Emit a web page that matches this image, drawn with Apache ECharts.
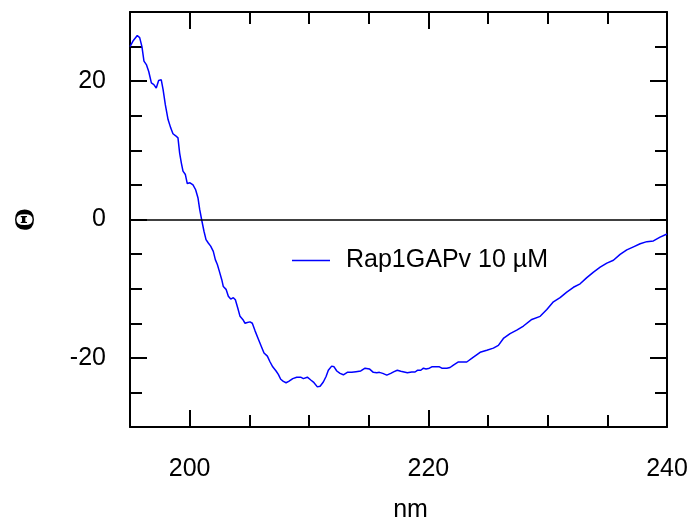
<!DOCTYPE html>
<html>
<head>
<meta charset="utf-8">
<script src="https://cdn.jsdelivr.net/npm/echarts@6/dist/echarts.min.js"></script>
<style>html,body{margin:0;padding:0;background:#fff}#c{width:688px;height:521px}</style>
</head>
<body>
<div id="c"></div>
<script>
var seriesName = 'Rap1GAPv 10 µM';
var wavelength = [195.0,195.25,195.61,195.81,196.0,196.17,196.37,196.57,196.79,197.0,197.2,197.4,197.62,197.77,197.96,198.19,198.41,198.6,198.83,199.02,199.16,199.3,199.44,199.64,199.8,200.03,200.28,200.5,200.7,200.84,201.0,201.2,201.37,201.56,201.76,201.98,202.15,202.32,202.49,202.69,202.82,203.05,203.24,203.44,203.66,203.83,204.03,204.22,204.45,204.64,204.83,205.06,205.25,205.48,205.76,206.04,206.23,206.51,206.74,206.96,207.24,207.43,207.63,207.85,208.08,208.3,208.64,208.97,209.3,209.53,209.86,210.15,210.37,210.7,210.93,211.2,211.43,211.62,211.9,212.1,212.33,212.6,212.88,213.21,213.58,213.94,214.34,214.7,215.06,215.39,215.68,215.9,216.18,216.52,216.85,217.13,217.4,217.69,217.97,218.24,218.61,218.89,219.08,219.37,219.59,219.81,220.09,220.29,220.65,220.93,221.13,221.55,221.82,222.1,222.52,223.22,223.78,224.34,224.9,225.45,225.87,226.29,226.85,227.41,227.97,228.67,229.37,229.93,230.48,231.04,231.6,232.16,232.72,233.28,233.84,234.4,234.96,235.51,236.07,236.63,237.19,237.75,238.31,238.86,239.42,240.0];
var theta = [25.0,25.8,26.6,26.3,25.0,22.9,22.4,21.4,19.75,19.5,19.0,20.1,20.2,18.8,16.6,14.45,13.25,12.4,12.1,11.8,9.6,8.2,7.0,6.5,5.2,5.3,5.0,4.3,3.1,1.45,0,-1.7,-2.9,-3.4,-3.85,-4.6,-5.8,-6.5,-7.5,-8.7,-9.7,-10.1,-11.1,-11.5,-11.3,-11.6,-12.8,-14.0,-14.45,-15.0,-14.9,-14.8,-15.0,-16.1,-17.3,-18.5,-19.3,-19.75,-20.6,-21.3,-21.9,-22.4,-23.1,-23.4,-23.6,-23.4,-23.0,-22.8,-22.8,-23.0,-22.8,-23.2,-23.5,-24.2,-24.1,-23.5,-22.7,-21.8,-21.2,-21.3,-21.9,-22.25,-22.45,-22.1,-22.1,-22.0,-21.9,-21.5,-21.6,-22.1,-22.15,-22.1,-22.25,-22.5,-22.25,-22.0,-21.8,-21.95,-22.05,-22.15,-22.05,-22.05,-21.8,-21.8,-21.5,-21.6,-21.5,-21.3,-21.3,-21.3,-21.5,-21.5,-21.4,-21.05,-20.6,-20.6,-19.9,-19.2,-18.9,-18.6,-18.2,-17.2,-16.5,-16.0,-15.4,-14.45,-14.0,-13.0,-11.9,-11.3,-10.5,-9.8,-9.3,-8.4,-7.6,-6.9,-6.3,-5.9,-5.05,-4.4,-3.95,-3.5,-3.2,-3.1,-2.55,-2.1];
var xMajorTicks = [200, 220, 240];
var xMinorTicks = [195, 205, 210, 215, 225, 230, 235];
var yMajorTicks = [-20, 0, 20];
var yMinorTicks = [-30, -25, -15, -10, -5, 5, 10, 15, 25, 30];
var xRange = [195, 240];
var yRange = [-30, 30];

var points = wavelength.map(function (w, i) { return [w, theta[i]]; });
var FONT = 'Liberation Sans, Arial, sans-serif';
var black = '#000';
var FS = 25;

function xAx(pos, ticks, len, lineShow, labels, extra) {
  var a = {
    type: 'value', position: pos, min: xRange[0], max: xRange[1],
    axisLine: { show: lineShow, onZero: false, lineStyle: { color: black, width: 2 } },
    axisTick: { show: true, inside: true, length: len, customValues: ticks, lineStyle: { color: black, width: 2 } },
    axisLabel: labels ? { show: true, customValues: ticks, margin: 30, color: black, fontSize: FS, fontFamily: FONT } : { show: false },
    splitLine: { show: false }
  };
  return Object.assign(a, extra || {});
}
function yAx(pos, ticks, len, lineShow, labels, extra) {
  var a = {
    type: 'value', position: pos, min: yRange[0], max: yRange[1],
    axisLine: { show: lineShow, onZero: false, lineStyle: { color: black, width: 2 } },
    axisTick: { show: true, inside: true, length: len, customValues: ticks, lineStyle: { color: black, width: 2 } },
    axisLabel: labels ? { show: true, customValues: ticks, margin: 24, color: black, fontSize: FS, fontFamily: FONT } : { show: false },
    splitLine: { show: false }
  };
  return Object.assign(a, extra || {});
}

var chart = echarts.init(document.getElementById('c'), null, { renderer: 'canvas' });
chart.setOption({
  animation: false,
  backgroundColor: '#fff',
  grid: { left: 130, right: 21, top: 12, bottom: 94, containLabel: false, outerBoundsMode: 'none' },
  legend: {
    show: true, left: 287, top: 243, itemWidth: 38, itemHeight: 1.5, icon: 'rect',
    data: [{ name: seriesName, icon: 'rect' }],
    itemStyle: { color: '#0000ff' },
    textStyle: { fontSize: FS, fontFamily: FONT, color: black, padding: [0, 0, 0, 11] }
  },
  xAxis: [
    xAx('bottom', xMajorTicks, 17, true, true, {
      name: 'nm', nameLocation: 'middle', nameGap: 71,
      nameTextStyle: { fontSize: FS, fontFamily: FONT, color: black, padding: [0, 0, 0, 24] }
    }),
    xAx('bottom', xMinorTicks, 12, false, false),
    xAx('top', xMajorTicks, 17, true, false),
    xAx('top', xMinorTicks, 12, false, false)
  ],
  yAxis: [
    yAx('left', yMajorTicks, 17, true, true, {
      name: 'Θ', nameLocation: 'middle', nameGap: 89, nameRotate: 90,
      nameTextStyle: { fontSize: 30, fontFamily: 'Liberation Serif, serif', fontWeight: 'bold', color: black }
    }),
    yAx('left', yMinorTicks, 12, false, false),
    yAx('right', yMajorTicks, 17, true, false),
    yAx('right', yMinorTicks, 12, false, false)
  ],
  series: [{
    name: seriesName, type: 'line', data: points, xAxisIndex: 0, yAxisIndex: 0,
    symbol: 'none', showSymbol: false, smooth: false,
    lineStyle: { color: '#0000ff', width: 1.5 }, itemStyle: { color: '#0000ff' },
    markLine: {
      silent: true, symbol: 'none', label: { show: false },
      lineStyle: { color: black, width: 1.5, type: 'solid' },
      data: [{ yAxis: 0 }]
    },
    z: 3
  }]
});
</script>
</body>
</html>
